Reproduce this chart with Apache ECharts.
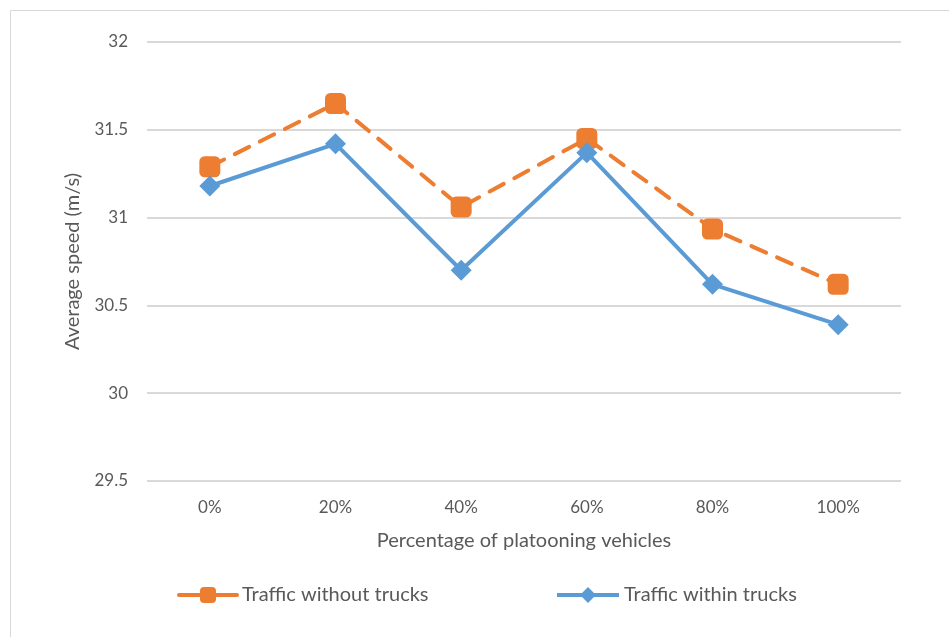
<!DOCTYPE html>
<html>
<head>
<meta charset="utf-8">
<script src="https://cdn.jsdelivr.net/npm/echarts@6/dist/echarts.min.js"></script>
<style>
  html, body { margin: 0; padding: 0; background: #fff; }
  #chart-dom { width: 949px; height: 637px; }
</style>
</head>
<body>
<div id="chart-dom"></div>
<script>
const categories = ['0%', '20%', '40%', '60%', '80%', '100%']
const withoutTrucks = [31.29, 31.65, 31.06, 31.45, 30.935, 30.62]
const withinTrucks = [31.18, 31.42, 30.70, 31.37, 30.62, 30.39]

const textColor = '#595959'
const fontFamily = 'Lato, "Open Sans", sans-serif'

const chart = echarts.init(document.getElementById('chart-dom'))
const option = {
  animation: false,
  textStyle: { fontFamily: fontFamily },
  graphic: [
    {
      type: 'rect',
      shape: { x: 10.5, y: 10.5, width: 1200, height: 1200 },
      style: { fill: 'none', stroke: '#d9d9d9', lineWidth: 1 },
      silent: true
    }
  ],
  grid: { left: 147, right: 48, top: 42, bottom: 156 },
  legend: [
    {
      data: ['Traffic without trucks'],
      left: 172,
      top: 580,
      itemWidth: 58,
      itemHeight: 20,
      lineStyle: { type: 'solid', width: 4 },
      textStyle: { color: textColor, fontSize: 20, fontFamily: fontFamily }
    },
    {
      data: ['Traffic within trucks'],
      left: 550,
      top: 580,
      itemWidth: 62,
      itemHeight: 20,
      lineStyle: { type: 'solid', width: 4 },
      textStyle: { color: textColor, fontSize: 20, fontFamily: fontFamily }
    }
  ],
  xAxis: {
    type: 'category',
    data: categories,
    boundaryGap: true,
    name: 'Percentage of platooning vehicles',
    nameLocation: 'middle',
    nameGap: 50,
    nameTextStyle: { color: textColor, fontSize: 20 },
    axisLine: { show: false },
    axisTick: { show: false },
    axisLabel: { color: textColor, fontSize: 17, margin: 18 }
  },
  yAxis: {
    type: 'value',
    min: 29.5,
    max: 32,
    interval: 0.5,
    name: 'Average speed (m/s)',
    nameLocation: 'middle',
    nameGap: 64,
    nameTextStyle: { color: textColor, fontSize: 20 },
    axisLine: { show: false },
    axisTick: { show: false },
    axisLabel: { color: textColor, fontSize: 17, margin: 19 },
    splitLine: { lineStyle: { color: '#d9d9d9', width: 2 } }
  },
  series: [
    {
      name: 'Traffic without trucks',
      type: 'line',
      data: withoutTrucks,
      color: '#ED7D31',
      symbol: 'roundRect',
      symbolSize: 21,
      lineStyle: { width: 4, type: [16, 12], cap: 'round' },
      itemStyle: { color: '#ED7D31' }
    },
    {
      name: 'Traffic within trucks',
      type: 'line',
      data: withinTrucks,
      color: '#5B9BD5',
      symbol: 'diamond',
      symbolSize: 21,
      lineStyle: { width: 4 },
      itemStyle: { color: '#5B9BD5' }
    }
  ]
}
option && chart.setOption(option)
</script>
</body>
</html>
